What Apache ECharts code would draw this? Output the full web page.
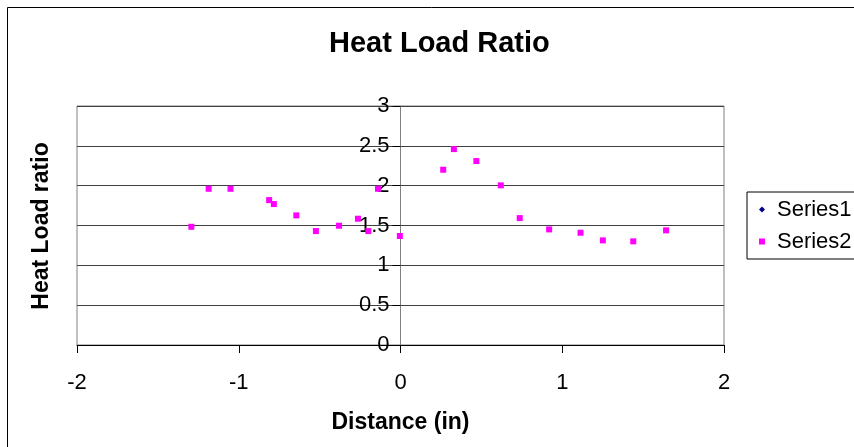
<!DOCTYPE html>
<html><head><meta charset="utf-8">
<script src="https://cdn.jsdelivr.net/npm/echarts@6/dist/echarts.min.js"></script>
<style>html,body{margin:0;padding:0;background:#fff}#c{width:854px;height:447px}</style>
</head><body><div id="c"></div>
<script>
const titleText = "Heat Load Ratio";
const xName = "Distance (in)";
const yName = "Heat Load ratio";
const seriesNames = ["Series1", "Series2"];
const series1X = [];
const series1Y = [];
const series2X = [-1.293,-1.186,-1.051,-0.812,-0.783,-0.644,-0.523,-0.380,-0.263,-0.199,-0.139,-0.004,0.264,0.330,0.469,0.620,0.737,0.919,1.113,1.251,1.439,1.642];
const series2Y = [1.484,1.961,1.961,1.819,1.769,1.627,1.430,1.497,1.585,1.430,1.961,1.368,2.200,2.459,2.309,2.004,1.593,1.451,1.409,1.313,1.301,1.439];
const font = "'Liberation Sans', Arial, sans-serif";
const gridL = 77, gridR = 130;
const chart = echarts.init(document.getElementById('c'));
chart.setOption({
  animation:false,
  backgroundColor:'#fff',
  title:{text:titleText,left:329,top:29,padding:0,textStyle:{fontFamily:font,fontSize:29,fontWeight:'bold',color:'#000'}},
  graphic:[
    {type:'rect',shape:{x:7.5,y:7.5,width:860,height:450},style:{fill:'none',stroke:'#000',lineWidth:1}},
    {type:'text',x:42,y:226,rotation:Math.PI/2,style:{text:yName,align:'center',verticalAlign:'middle',fontFamily:font,fontSize:23,fontWeight:'bold',fill:'#000'}}
  ],
  grid:{left:gridL,right:gridR,top:106,bottom:102,show:true,borderColor:'#808080',borderWidth:1,backgroundColor:'#fff'},
  legend:{left:747,top:192,orient:'vertical',itemGap:8,itemWidth:6,itemHeight:6,padding:[5.5,30,5.5,12],
    borderColor:'#000',borderWidth:1,textStyle:{fontFamily:font,fontSize:22,lineHeight:24,color:'#000',padding:[0,0,0,7]},
    data:[{name:seriesNames[0],icon:'diamond'},{name:seriesNames[1],icon:'rect'}]},
  xAxis:{type:'value',min:-2,max:2,interval:1,name:xName,nameLocation:'middle',nameGap:66,
    nameTextStyle:{fontFamily:font,fontSize:23,fontWeight:'bold',color:'#000'},
    axisLine:{show:true,onZero:false,lineStyle:{color:'#000'}},axisTick:{show:true,length:8,inside:false,lineStyle:{color:'#000'}},
    axisLabel:{fontFamily:font,fontSize:22,color:'#000',margin:27},splitLine:{show:false}},
  yAxis:{type:'value',min:0,max:3,interval:0.5,position:'left',offset:-(854-gridL-gridR)/2,
    axisLine:{show:true,onZero:false,lineStyle:{color:'#808080'}},axisTick:{show:true,length:8,lineStyle:{color:'#000'}},
    axisLabel:{fontFamily:font,fontSize:22,color:'#000',margin:11},
    splitLine:{show:true,lineStyle:{color:'#404040',width:1}}},
  series:[
    {name:seriesNames[0],type:'scatter',symbol:'diamond',symbolSize:7,itemStyle:{color:'#000080',opacity:1},data:series1X.map((x,i)=>[x,series1Y[i]])},
    {name:seriesNames[1],type:'scatter',symbol:'rect',symbolSize:6,itemStyle:{color:'#FF00FF',opacity:1},data:series2X.map((x,i)=>[x,series2Y[i]])}
  ]
});
</script></body></html>
